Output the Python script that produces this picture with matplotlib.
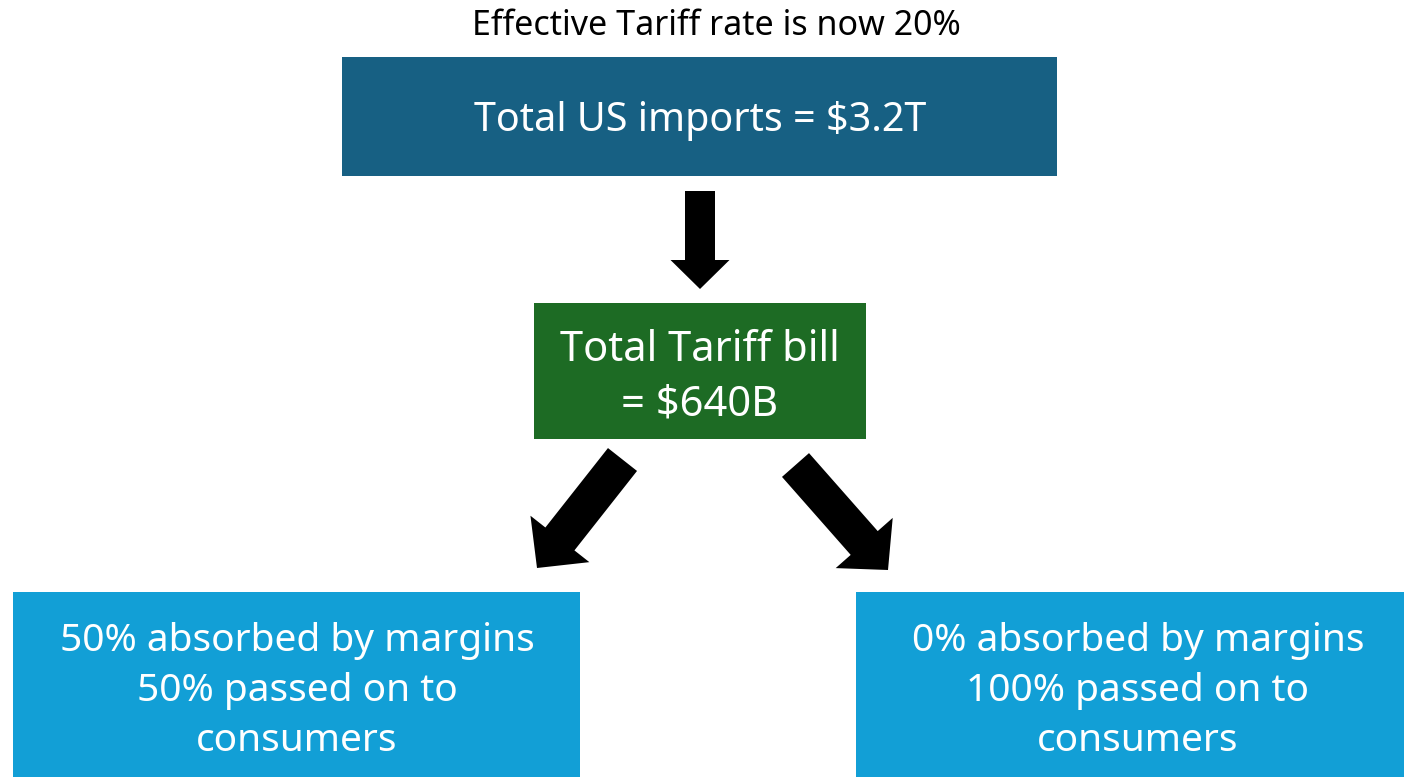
import matplotlib
matplotlib.use('Agg')
import matplotlib.pyplot as plt
import matplotlib.patches as mpatches

plt.rcParams['font.family'] = ['Noto Sans', 'DejaVu Sans']

# ---- diagram content ----
title = 'Effective Tariff rate is now 20%'
box_texts = [
    'Total US imports = $3.2T',
    'Total Tariff bill\n= $640B',
    '50% absorbed by margins\n50% passed on to\nconsumers',
    '0% absorbed by margins\n100% passed on to\nconsumers',
]
box_colors = ['#176083', '#1d6b24', '#129fd6', '#129fd6']

# box extents in pixels: x0, y0, x1, y1 (y measured from top)
boxes = [(342, 57, 1057, 176), (534, 303, 866, 439),
         (13, 592, 580, 777), (856, 592, 1404, 777)]
# text centre for each box, and font size
text_pos = [(700, 121), (700, 377), (297, 691), (1138, 691)]
font_sizes = [28.5, 30, 28, 28]

fig = plt.figure(figsize=(14.04, 7.77), dpi=100)
ax = fig.add_axes([0, 0, 1, 1])
ax.set_xlim(0, 1404)
ax.set_ylim(777, 0)
ax.axis('off')

ax.text(716, 26, title, ha='center', va='center', fontsize=24.5, color='black')

for (x0, y0, x1, y1), txt, c, (cx, cy), fs in zip(boxes, box_texts, box_colors,
                                                   text_pos, font_sizes):
    ax.add_patch(mpatches.Rectangle((x0, y0), x1 - x0, y1 - y0, color=c, lw=0))
    ax.text(cx, cy, txt, ha='center', va='center', color='white',
            fontsize=fs, linespacing=1.4)

# arrows: start, tip, shaft width, head width, head length
arrows = [((700, 191), (700, 289), 30, 59, 29),
          ((622.5, 459.5), (537, 568), 37, 75, 37),
          ((795.5, 465), (888, 570), 36, 76, 36)]
for (sx, sy), (tx, ty), w, hw, hl in arrows:
    ax.add_patch(mpatches.FancyArrow(sx, sy, tx - sx, ty - sy, width=w,
                                     head_width=hw, head_length=hl,
                                     length_includes_head=True,
                                     color='black', lw=0))

fig.savefig('out.png', dpi=100)
